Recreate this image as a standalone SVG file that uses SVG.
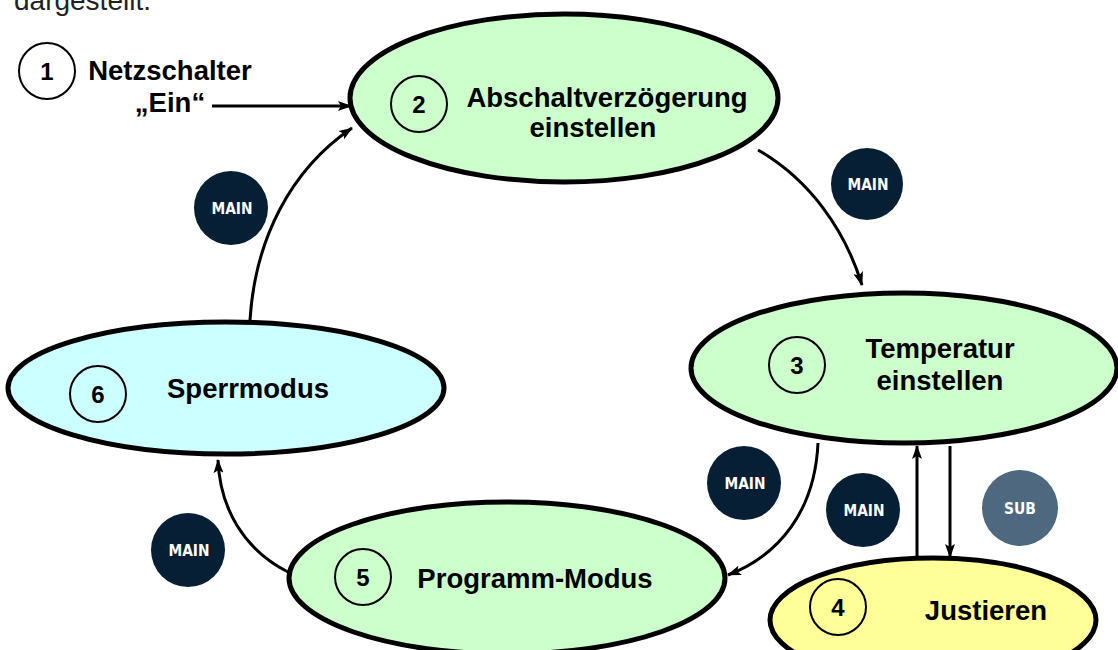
<svg xmlns="http://www.w3.org/2000/svg" width="1118" height="650" viewBox="0 0 1118 650">
<style>
.lbl{font-family:"Liberation Sans",Arial,sans-serif;font-weight:bold;font-size:27.5px;fill:#000;text-anchor:middle}
.num{font-family:"Liberation Sans",Arial,sans-serif;font-weight:bold;font-size:24px;fill:#000;text-anchor:middle}
.ncirc{fill:none;stroke:#000;stroke-width:2}
.state{stroke:#000;stroke-width:5}
.green{fill:#CCFFCC}
.cyan{fill:#CCFFFF}
.yellow{fill:#FFFF99}
.badge{fill:#061F35}
.sub{fill:#4E687F}
.btxt{font-family:"DejaVu Sans",Verdana,sans-serif;font-weight:bold;font-size:16px;fill:#fff;text-anchor:middle}
.conn{fill:none;stroke:#000;stroke-width:3;marker-end:url(#ah)}
</style>
<defs>
<marker id="ah" viewBox="0 0 14 10" refX="13" refY="5" markerWidth="14" markerHeight="10" markerUnits="userSpaceOnUse" orient="auto">
<path d="M0,0 L14,5 L0,10 L3,5 z" fill="#000"/>
</marker>
</defs>
<rect width="1118" height="650" fill="#fff"/>
<text x="14" y="10" font-family="Liberation Sans,Arial,sans-serif" font-size="28" fill="#222">dargestellt.</text>

<g id="connectors">
<line class="conn" x1="212" y1="106" x2="351" y2="106"/>
<path class="conn" d="M250 320 C255 240 290 170 352 128"/>
<path class="conn" d="M758 150 C810 180 845 230 862 285"/>
<path class="conn" d="M818 443 C815 510 780 555 728 575"/>
<path class="conn" d="M288 572 C245 550 220 510 218 460"/>
<line class="conn" x1="917" y1="557" x2="917" y2="446"/>
<line class="conn" x1="950" y1="446" x2="950" y2="557"/>
</g>

<g id="node1">
<circle class="ncirc" cx="47" cy="71" r="28"/>
<text class="num" x="47" y="80">1</text>
<text class="lbl" x="170" y="80">Netzschalter</text>
<text class="lbl" x="170" y="112">„Ein“</text>
</g>

<g id="node2">
<ellipse class="state green" cx="564" cy="98" rx="214" ry="84"/>
<circle class="ncirc" cx="419" cy="104" r="28"/>
<text class="num" x="419" y="113">2</text>
<text class="lbl" x="607" y="107">Abschaltverzögerung</text>
<text class="lbl" x="593" y="137">einstellen</text>
</g>

<g id="node3">
<ellipse class="state green" cx="904" cy="368" rx="213" ry="75"/>
<circle class="ncirc" cx="797" cy="365" r="28"/>
<text class="num" x="797" y="374">3</text>
<text class="lbl" x="940" y="358">Temperatur</text>
<text class="lbl" x="940" y="390">einstellen</text>
</g>

<g id="node4">
<ellipse class="state yellow" cx="933" cy="620" rx="163" ry="62"/>
<circle class="ncirc" cx="838" cy="607" r="28"/>
<text class="num" x="838" y="616">4</text>
<text class="lbl" x="986" y="620">Justieren</text>
</g>

<g id="node5">
<ellipse class="state green" cx="507" cy="578" rx="218" ry="76"/>
<circle class="ncirc" cx="363" cy="577" r="28"/>
<text class="num" x="363" y="586">5</text>
<text class="lbl" x="535" y="588">Programm-Modus</text>
</g>

<g id="node6">
<ellipse class="state cyan" cx="226" cy="388" rx="218" ry="66"/>
<circle class="ncirc" cx="98" cy="394" r="28"/>
<text class="num" x="98" y="403">6</text>
<text class="lbl" x="248" y="398">Sperrmodus</text>
</g>

<g id="badges">
<g id="badge-main-1"><circle class="badge" cx="231" cy="208" r="37"/><text class="btxt" x="232" y="214" textLength="41" lengthAdjust="spacingAndGlyphs">MAIN</text></g>
<g id="badge-main-2"><circle class="badge" cx="867" cy="184" r="36"/><text class="btxt" x="868" y="190" textLength="41" lengthAdjust="spacingAndGlyphs">MAIN</text></g>
<g id="badge-main-3"><circle class="badge" cx="744" cy="483" r="37"/><text class="btxt" x="745" y="489" textLength="41" lengthAdjust="spacingAndGlyphs">MAIN</text></g>
<g id="badge-main-4"><circle class="badge" cx="863" cy="510" r="37"/><text class="btxt" x="864" y="516" textLength="41" lengthAdjust="spacingAndGlyphs">MAIN</text></g>
<g id="badge-sub"><circle class="sub" cx="1020" cy="508" r="38"/><text class="btxt" x="1020" y="514" textLength="32" lengthAdjust="spacingAndGlyphs">SUB</text></g>
<g id="badge-main-5"><circle class="badge" cx="188" cy="550" r="37"/><text class="btxt" x="189" y="556" textLength="41" lengthAdjust="spacingAndGlyphs">MAIN</text></g>
</g>
</svg>
